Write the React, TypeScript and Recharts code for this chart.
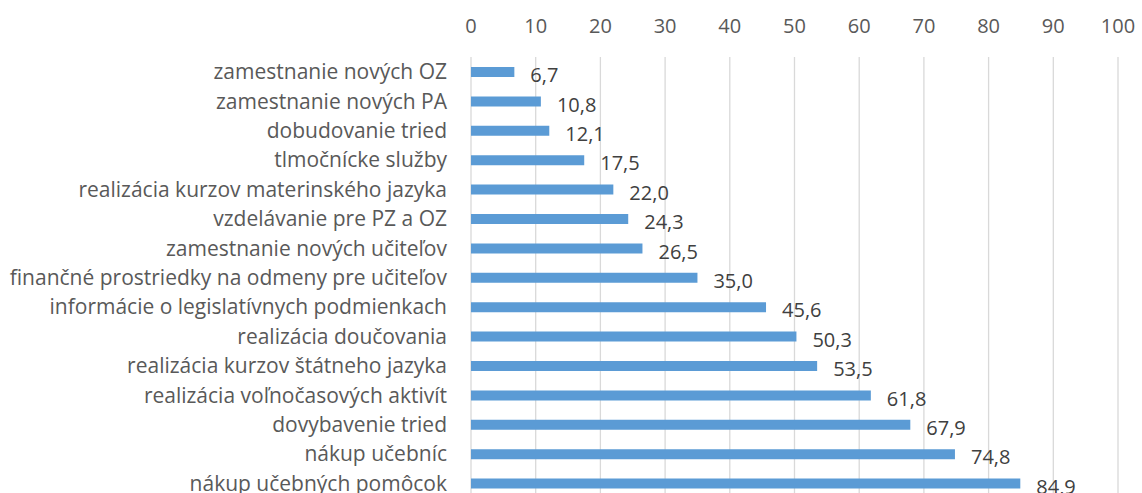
import { BarChart, Bar, XAxis, YAxis, CartesianGrid, LabelList } from "recharts"

const categories = [
  "zamestnanie nových OZ",
  "zamestnanie nových PA",
  "dobudovanie tried",
  "tlmočnícke služby",
  "realizácia kurzov materinského jazyka",
  "vzdelávanie pre PZ a OZ",
  "zamestnanie nových učiteľov",
  "finančné prostriedky na odmeny pre učiteľov",
  "informácie o legislatívnych podmienkach",
  "realizácia doučovania",
  "realizácia kurzov štátneho jazyka",
  "realizácia voľnočasových aktivít",
  "dovybavenie tried",
  "nákup učebníc",
  "nákup učebných pomôcok",
]

const values = [6.7, 10.8, 12.1, 17.5, 22.0, 24.3, 26.5, 35.0, 45.6, 50.3, 53.5, 61.8, 67.9, 74.8, 84.9]

const xTicks = [0, 10, 20, 30, 40, 50, 60, 70, 80, 90, 100]

const data = categories.map((name, i) => ({ name, value: values[i] }))

const font = "'Open Sans', sans-serif"

export default function App() {
  return (
    <div style={{ position: "absolute", left: 0, top: 0, width: 1142, height: 493, overflow: "hidden", background: "#fff" }}>
      <BarChart
        width={1142}
        height={505}
        data={data}
        layout="vertical"
        margin={{ top: 0, right: 24, bottom: 7, left: 0 }}
        style={{ fontFamily: font }}
      >
        <CartesianGrid horizontal={false} stroke="#d9d9d9" strokeWidth={1.3} />
        <XAxis
          type="number"
          orientation="top"
          domain={[0, 100]}
          ticks={xTicks}
          height={57}
          axisLine={false}
          tickLine={false}
          tickSize={0}
          tickMargin={24}
          tick={{ fill: "#595959", fontSize: 20 }}
        />
        <YAxis
          type="category"
          dataKey="name"
          width={471}
          axisLine={false}
          tickLine={false}
          tickSize={0}
          tickMargin={24}
          interval={0}
          tick={{ fill: "#595959", fontSize: 21 }}
        />
        <Bar dataKey="value" fill="#5b9bd5" barSize={10} isAnimationActive={false}>
          <LabelList
            dataKey="value"
            position="right"
            offset={16}
            fill="#404040"
            fontSize={20}
            dy={3}
            formatter={(v: number) => v.toFixed(1).replace(".", ",")}
          />
        </Bar>
      </BarChart>
    </div>
  )
}
